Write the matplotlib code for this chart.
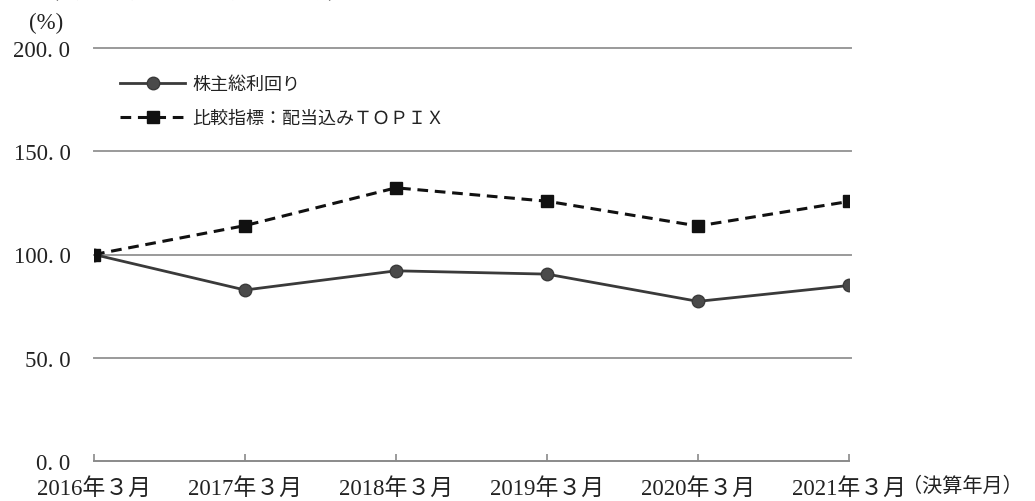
import matplotlib
matplotlib.use("Agg")
import matplotlib.pyplot as plt

plt.rcParams['font.family'] = ['Liberation Serif', 'Noto Sans CJK JP', 'DejaVu Sans']

categories = ["2016年３月", "2017年３月", "2018年３月", "2019年３月", "2020年３月", "2021年３月"]
tsr = [100.0, 82.8, 92.1, 90.5, 77.3, 85.0]
topix = [100.0, 114.0, 132.3, 125.8, 113.8, 125.7]
series_names = ["株主総利回り", "比較指標：配当込みＴＯＰＩＸ"]
yticks = [0, 50, 100, 150, 200]
ytick_labels = ["0. 0", "50. 0", "100. 0", "150. 0", "200. 0"]

W, H = 1035, 502
XPAD = 11.5
fig = plt.figure(figsize=(W / 100, H / 100), dpi=100)
ax = fig.add_axes([94 / W, 1 - 462 / H, (849 - 94) / W, (462 - 49) / H])

x = list(range(len(categories)))
ax.plot(x, tsr, color='#3a3a3a', lw=2.0, marker='o', markersize=9,
        markerfacecolor='#4a4a4a', markeredgecolor='#3a3a3a', label=series_names[0],
        solid_joinstyle='round', zorder=4)
ax.plot(x, topix, color='#111111', lw=2.2, ls=(0, (3.5, 2.2)), marker='s', markersize=9,
        markerfacecolor='#111111', markeredgecolor='#111111', label=series_names[1], zorder=4)

ax.set_xlim(0, 5)
ax.set_ylim(0, 200)
for y in yticks[1:]:
    ax.axhline(y, color='#9a9a9a', lw=1.4, zorder=1, xmax=1.003, clip_on=False)

for s in ['top', 'right', 'left']:
    ax.spines[s].set_visible(False)
ax.spines['bottom'].set_color('#8a8a8a')
ax.spines['bottom'].set_linewidth(1.4)

ax.set_yticks(yticks)
ax.set_yticklabels(ytick_labels, fontsize=16.5, color='#222222')
ax.tick_params(axis='y', length=0, pad=17)
ax.set_xticks(x)
ax.set_xticklabels(categories, fontsize=16.5, color='#222222')
ax.tick_params(axis='x', direction='in', length=5, width=1.2, color='#8a8a8a', pad=XPAD)

ax.annotate("（決算年月）", xy=(1, 0), xycoords='axes fraction',
            xytext=(38, -XPAD), textcoords='offset points',
            fontsize=14.5, color='#222222', va='top', ha='left', annotation_clip=False)
fig.text(46 / W, 1 - 23 / H, "(%)", fontsize=16.5, color='#222222', va='center', ha='center')
fig.text(40 / W, 1 + 5 / H, "（最近５年間の株主総利回りの推移）", fontsize=13, color='#222222',
         va='center', ha='left')

leg = ax.legend(loc='upper left', bbox_to_anchor=((120 - 94) / (849 - 94), 1 - (77 - 49) / (462 - 49)),
                frameon=False, fontsize=13, handlelength=3.6, handletextpad=0.4,
                labelspacing=0.95, borderaxespad=0, borderpad=0)
for t in leg.get_texts():
    t.set_color('#222222')

fig.savefig("out.png", dpi=100)
